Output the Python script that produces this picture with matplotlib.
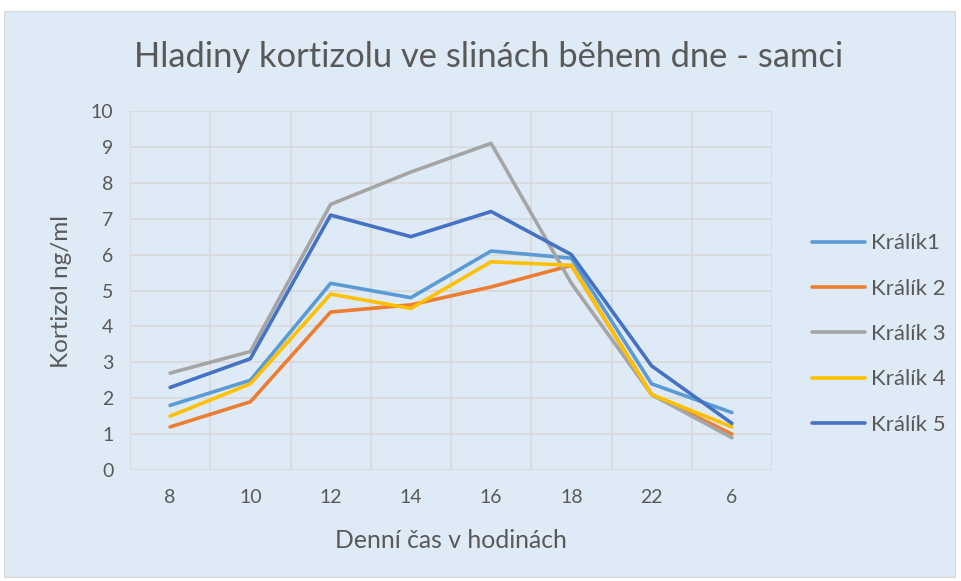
import matplotlib
matplotlib.use("Agg")
import matplotlib.pyplot as plt
from matplotlib.patches import Rectangle
import numpy as np

categories = ["8", "10", "12", "14", "16", "18", "22", "6"]
series_names = ["Králík1", "Králík 2", "Králík 3", "Králík 4", "Králík 5"]
kralik1 = [1.8, 2.5, 5.2, 4.8, 6.1, 5.9, 2.4, 1.6]
kralik2 = [1.2, 1.9, 4.4, 4.6, 5.1, 5.7, 2.1, 1.0]
kralik3 = [2.7, 3.3, 7.4, 8.3, 9.1, 5.2, 2.1, 0.9]
kralik4 = [1.5, 2.4, 4.9, 4.5, 5.8, 5.7, 2.1, 1.2]
kralik5 = [2.3, 3.1, 7.1, 6.5, 7.2, 6.0, 2.9, 1.3]
colors = ["#5B9BD5", "#ED7D31", "#A5A5A5", "#FFC000", "#4472C4"]

plt.rcParams['font.family'] = ['Lato', 'DejaVu Sans']
bg = "#DEEAF6"
txt = "#595959"

fig = plt.figure(figsize=(9.61, 5.81), dpi=100)
fig.patch.set_facecolor("white")
fig.add_artist(Rectangle((4/961, 1 - 577/581), 951/961, 566/581, transform=fig.transFigure,
                         facecolor=bg, edgecolor="#D9D9D9", linewidth=0.8, zorder=0))

ax = fig.add_axes([130/961, 1 - 470/581, 642/961, 359/581])
ax.set_facecolor(bg)
x = np.arange(len(categories))
for vals, name, c in zip([kralik1, kralik2, kralik3, kralik4, kralik5], series_names, colors):
    ax.plot(x, vals, color=c, linewidth=2.6, label=name, solid_capstyle="round", solid_joinstyle="round", zorder=3)

ax.set_xlim(-0.5, len(categories) - 0.5)
ax.set_ylim(0, 10)
ax.set_yticks(range(0, 11))
ax.set_xticks(x)
ax.set_xticklabels(categories)
ax.set_xticks(np.arange(-0.5, len(categories), 1.0), minor=True)
ax.grid(True, which="major", axis="y", color="#D9D9D9", linewidth=1.2, zorder=1)
ax.grid(True, which="minor", axis="x", color="#D9D9D9", linewidth=1.2, zorder=1)
for s in ax.spines.values():
    s.set_visible(False)
ax.tick_params(axis="both", which="both", length=0, colors=txt, labelsize=14)
ax.tick_params(axis="x", pad=14)
ax.tick_params(axis="y", pad=12)

fig.text(451/961, 1 - 540/581, "Denní čas v hodinách", ha="center", va="center", fontsize=17.8, color=txt)
fig.text(62/961, 1 - 291/581, "Kortizol ng/ml", ha="center", va="center", rotation=90, fontsize=17.5, color=txt)
fig.text(489/961, 1 - 57/581, "Hladiny kortizolu ve slinách během dne - samci",
         ha="center", va="center", fontsize=24.8, color=txt)

leg = ax.legend(loc="center left", bbox_to_anchor=(812/961, 1 - 334/581), bbox_transform=fig.transFigure,
                frameon=False, fontsize=16, handlelength=2.4, handletextpad=0.25, labelspacing=1.14,
                borderpad=0, borderaxespad=0)
for t in leg.get_texts():
    t.set_color(txt)

fig.savefig("out.png", dpi=100, facecolor=fig.get_facecolor())
